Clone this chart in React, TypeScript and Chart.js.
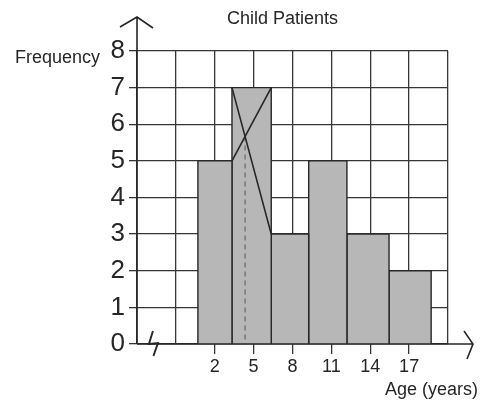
import React, { useEffect, useRef } from "react";
import { Chart, registerables } from "chart.js";

Chart.register(...registerables);

// ---- data ----
const chartTitle = "Child Patients";
const yAxisTitle = "Frequency";
const xAxisTitle = "Age (years)";
const ageTickLabels = [2, 5, 8, 11, 14, 17];
const xGridValues = [-4, -1, 2, 5, 8, 11, 14, 17, 20];
const yTickValues = [0, 1, 2, 3, 4, 5, 6, 7, 8];
const classEdges = [0.7, 3.33, 6.36, 9.25, 12.2, 15.45, 18.7];
const frequencies = [5, 7, 3, 5, 3, 2];
const modalIndex = 1;
const axisBreakAt = -2.77;

// ---- styles ----
const FONT = '"Liberation Sans", Arial, Helvetica, sans-serif';
const INK = "#262626";
const GRID = "#363636";
const BAR_FILL = "#b7b7b7";

function buildDatasets() {
  const ds: any[] = [];
  const m = modalIndex;
  const e0 = classEdges[m];
  const e1 = classEdges[m + 1];
  const fPrev = frequencies[m - 1];
  const fMode = frequencies[m];
  const fNext = frequencies[m + 1];
  const t = (fMode - fPrev) / (fMode - fPrev + (fMode - fNext));
  const xi = e0 + t * (e1 - e0);
  const yi = fPrev + (fMode - fPrev) * t;
  ds.push({
    type: "line",
    data: [
      { x: e0, y: fPrev },
      { x: e1, y: fMode },
    ],
    borderColor: INK,
    borderWidth: 1.6,
    pointRadius: 0,
    fill: false,
    order: 0,
  });
  ds.push({
    type: "line",
    data: [
      { x: e0, y: fMode },
      { x: e1, y: fNext },
    ],
    borderColor: INK,
    borderWidth: 1.6,
    pointRadius: 0,
    fill: false,
    order: 0,
  });
  ds.push({
    type: "line",
    data: [
      { x: xi, y: yi },
      { x: xi, y: 0 },
    ],
    borderColor: "#555",
    borderWidth: 1,
    borderDash: [5, 4],
    pointRadius: 0,
    fill: false,
    order: 1,
  });
  frequencies.forEach((f, i) => {
    const a = classEdges[i];
    const b = classEdges[i + 1];
    ds.push({
      type: "line",
      data: [
        { x: a, y: 0 },
        { x: a, y: f },
        { x: b, y: f },
        { x: b, y: 0 },
      ],
      borderColor: INK,
      borderWidth: 1.4,
      backgroundColor: BAR_FILL,
      fill: "origin",
      pointRadius: 0,
      tension: 0,
      order: 2,
    });
  });
  return ds;
}

const decorPlugin = {
  id: "decor",
  afterDraw(chart: any) {
    const { ctx, scales } = chart;
    const left = scales.x.getPixelForValue(xGridValues[0]);
    const y0 = scales.y.getPixelForValue(0);
    ctx.save();
    ctx.strokeStyle = INK;
    ctx.lineWidth = 1.6;
    ctx.lineJoin = "miter";
    ctx.beginPath();
    ctx.moveTo(left, y0);
    ctx.lineTo(left, 17);
    ctx.moveTo(left - 17, 27);
    ctx.lineTo(left, 17);
    ctx.lineTo(left + 16, 28);
    ctx.moveTo(left, y0);
    ctx.lineTo(473, y0);
    ctx.moveTo(464, y0 - 13);
    ctx.lineTo(473, y0);
    ctx.lineTo(467, y0 + 15);
    ctx.stroke();
    const bx = scales.x.getPixelForValue(axisBreakAt);
    ctx.lineWidth = 1.9;
    ctx.beginPath();
    ctx.moveTo(bx, y0 - 13);
    ctx.lineTo(bx - 4, y0);
    ctx.lineTo(bx + 5, y0 - 1);
    ctx.lineTo(bx + 0.5, y0 + 12);
    ctx.stroke();
    ctx.fillStyle = INK;
    ctx.font = `18px ${FONT}`;
    ctx.textAlign = "center";
    ctx.textBaseline = "middle";
    ctx.fillText(chartTitle, 282.5, 19.5);
    ctx.fillText(yAxisTitle, 57.5, 58);
    ctx.fillText(xAxisTitle, 431.5, 390);
    ctx.restore();
  },
};

export default function App() {
  const ref = useRef<HTMLCanvasElement | null>(null);
  useEffect(() => {
    if (!ref.current) return;
    const chart = new Chart(ref.current, {
      type: "line",
      data: { datasets: buildDatasets() },
      options: {
        animation: false,
        responsive: false,
        devicePixelRatio: 1,
        layout: { padding: { left: 0, top: 51, right: 35, bottom: 0 } },
        plugins: {
          legend: { display: false },
          title: { display: false },
          tooltip: { enabled: false },
        },
        scales: {
          x: {
            type: "linear",
            min: xGridValues[0],
            max: xGridValues[xGridValues.length - 1],
            afterBuildTicks: (scale: any) => {
              scale.ticks = xGridValues.map((v) => ({ value: v }));
            },
            afterFit: (scale: any) => {
              scale.height = 60;
            },
            border: { display: false },
            grid: {
              color: GRID,
              lineWidth: 1.3,
              tickLength: 10,
              tickColor: (c: any) =>
                c.tick && ageTickLabels.includes(c.tick.value) ? GRID : "rgba(0,0,0,0)",
            },
            ticks: {
              autoSkip: false,
              maxRotation: 0,
              padding: 2,
              color: INK,
              font: { family: FONT, size: 18 },
              callback: (v: any) => (ageTickLabels.includes(Number(v)) ? String(v) : ""),
            },
          },
          y: {
            type: "linear",
            min: yTickValues[0],
            max: yTickValues[yTickValues.length - 1],
            afterBuildTicks: (scale: any) => {
              scale.ticks = yTickValues.map((v) => ({ value: v }));
            },
            afterFit: (scale: any) => {
              scale.width = 137;
            },
            border: { display: false },
            grid: {
              color: GRID,
              lineWidth: 1.3,
              tickLength: 8,
              tickColor: GRID,
            },
            ticks: {
              padding: 4,
              color: INK,
              font: { family: FONT, size: 26 },
              callback: (v: any) => String(v),
            },
          },
        },
      } as any,
      plugins: [decorPlugin],
    });
    return () => chart.destroy();
  }, []);
  return (
    <div style={{ position: "fixed", left: 0, top: 0, width: 483, height: 404, background: "#fff" }}>
      <canvas ref={ref} width={483} height={404} style={{ width: 483, height: 404 }} />
    </div>
  );
}
